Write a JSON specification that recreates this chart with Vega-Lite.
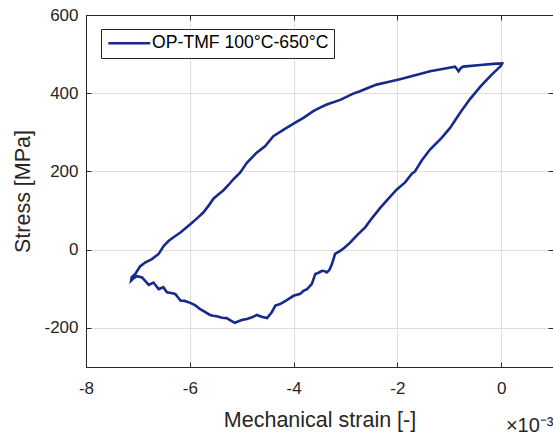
{
  "$schema": "https://vega.github.io/schema/vega-lite/v6.json",
  "width": 467,
  "height": 352,
  "autosize": "none",
  "padding": {"left": 86, "top": 15, "right": 0, "bottom": 70},
  "background": "white",
  "title": {"text": "×10⁻³", "orient": "bottom", "anchor": "end", "fontSize": 20, "fontWeight": "normal", "font": "Liberation Sans", "color": "#262626", "offset": -15},
  "config": {
    "view": {"stroke": "#262626", "strokeWidth": 1},
    "axis": {"domainColor": "#262626", "tickColor": "#262626", "labelColor": "#262626", "titleColor": "#262626", "labelFont": "Liberation Sans", "titleFont": "Liberation Sans", "labelFontSize": 17, "titleFontSize": 21.5, "titleFontWeight": "normal", "gridColor": "#dedede", "gridWidth": 1, "tickSize": -5, "domainWidth": 1, "labelFlush": false, "labelOverlap": false,
             "labelExpr": "datum.value < 0 ? '-' + abs(datum.value) : '' + datum.value"}
  },
  "data": {"values": [
    {"i":0,"x":0.01,"y":472},{"i":1,"x":-0.2,"y":445},{"i":2,"x":-0.4,"y":417},{"i":3,"x":-0.6,"y":385},{"i":4,"x":-0.79,"y":350},{"i":5,"x":-0.98,"y":312},{"i":6,"x":-1.15,"y":285},{"i":7,"x":-1.37,"y":256},{"i":8,"x":-1.53,"y":228},{"i":9,"x":-1.66,"y":200},{"i":10,"x":-1.72,"y":194},{"i":11,"x":-1.85,"y":172},{"i":12,"x":-2.01,"y":154},{"i":13,"x":-2.18,"y":129},{"i":14,"x":-2.33,"y":107},{"i":15,"x":-2.48,"y":82},{"i":16,"x":-2.62,"y":57},{"i":17,"x":-2.77,"y":38},{"i":18,"x":-2.91,"y":18},{"i":19,"x":-3.02,"y":5},{"i":20,"x":-3.1,"y":-3},{"i":21,"x":-3.2,"y":-11},{"i":22,"x":-3.26,"y":-37},{"i":23,"x":-3.31,"y":-52},{"i":24,"x":-3.36,"y":-58},{"i":25,"x":-3.4,"y":-55},{"i":26,"x":-3.45,"y":-54},{"i":27,"x":-3.52,"y":-59},{"i":28,"x":-3.58,"y":-62},{"i":29,"x":-3.65,"y":-88},{"i":30,"x":-3.74,"y":-101},{"i":31,"x":-3.81,"y":-105},{"i":32,"x":-3.87,"y":-113},{"i":33,"x":-4.0,"y":-118},{"i":34,"x":-4.13,"y":-129},{"i":35,"x":-4.26,"y":-139},{"i":36,"x":-4.35,"y":-143},{"i":37,"x":-4.42,"y":-160},{"i":38,"x":-4.51,"y":-175},{"i":39,"x":-4.6,"y":-172},{"i":40,"x":-4.71,"y":-167},{"i":41,"x":-4.8,"y":-173},{"i":42,"x":-4.9,"y":-177},{"i":43,"x":-5.0,"y":-180},{"i":44,"x":-5.13,"y":-187},{"i":45,"x":-5.2,"y":-182},{"i":46,"x":-5.29,"y":-175},{"i":47,"x":-5.38,"y":-174},{"i":48,"x":-5.48,"y":-170},{"i":49,"x":-5.55,"y":-169},{"i":50,"x":-5.61,"y":-167},{"i":51,"x":-5.7,"y":-160},{"i":52,"x":-5.8,"y":-152},{"i":53,"x":-5.9,"y":-142},{"i":54,"x":-5.99,"y":-136},{"i":55,"x":-6.1,"y":-131},{"i":56,"x":-6.18,"y":-130},{"i":57,"x":-6.28,"y":-113},{"i":58,"x":-6.36,"y":-111},{"i":59,"x":-6.44,"y":-109},{"i":60,"x":-6.51,"y":-96},{"i":61,"x":-6.6,"y":-101},{"i":62,"x":-6.7,"y":-84},{"i":63,"x":-6.79,"y":-90},{"i":64,"x":-6.86,"y":-80},{"i":65,"x":-6.92,"y":-71},{"i":66,"x":-7.02,"y":-68},{"i":67,"x":-7.1,"y":-75},{"i":68,"x":-7.13,"y":-79},{"i":69,"x":-7.12,"y":-70},{"i":70,"x":-7.05,"y":-62},{"i":71,"x":-6.96,"y":-43},{"i":72,"x":-6.86,"y":-33},{"i":73,"x":-6.73,"y":-24},{"i":74,"x":-6.6,"y":-11},{"i":75,"x":-6.5,"y":10},{"i":76,"x":-6.41,"y":22},{"i":77,"x":-6.3,"y":33},{"i":78,"x":-6.18,"y":44},{"i":79,"x":-5.99,"y":65},{"i":80,"x":-5.86,"y":80},{"i":81,"x":-5.74,"y":95},{"i":82,"x":-5.64,"y":112},{"i":83,"x":-5.54,"y":131},{"i":84,"x":-5.45,"y":141},{"i":85,"x":-5.35,"y":152},{"i":86,"x":-5.25,"y":166},{"i":87,"x":-5.16,"y":180},{"i":88,"x":-5.03,"y":197},{"i":89,"x":-4.9,"y":222},{"i":90,"x":-4.71,"y":248},{"i":91,"x":-4.55,"y":264},{"i":92,"x":-4.39,"y":290},{"i":93,"x":-4.19,"y":307},{"i":94,"x":-4.0,"y":322},{"i":95,"x":-3.81,"y":337},{"i":96,"x":-3.62,"y":354},{"i":97,"x":-3.49,"y":363},{"i":98,"x":-3.36,"y":371},{"i":99,"x":-3.1,"y":383},{"i":100,"x":-2.85,"y":399},{"i":101,"x":-2.72,"y":405},{"i":102,"x":-2.52,"y":416},{"i":103,"x":-2.4,"y":422},{"i":104,"x":-2.2,"y":428},{"i":105,"x":-1.95,"y":436},{"i":106,"x":-1.62,"y":447},{"i":107,"x":-1.37,"y":456},{"i":108,"x":-1.05,"y":464},{"i":109,"x":-0.89,"y":468},{"i":110,"x":-0.85,"y":462},{"i":111,"x":-0.82,"y":456},{"i":112,"x":-0.77,"y":465},{"i":113,"x":-0.73,"y":468},{"i":114,"x":-0.4,"y":472},{"i":115,"x":-0.15,"y":475},{"i":116,"x":0.02,"y":476},{"i":117,"x":0.01,"y":472}
  ]},
  "layer": [
    {
      "mark": {"type": "line", "strokeWidth": 2.6, "clip": true},
      "encoding": {
        "x": {"field": "x", "type": "quantitative", "scale": {"domain": [-8, 1], "nice": false, "zero": false},
              "axis": {"orient": "bottom", "values": [-8, -6, -4, -2, 0], "title": "Mechanical strain [-]", "labelPadding": 18, "titlePadding": 13, "grid": true}},
        "y": {"field": "y", "type": "quantitative", "scale": {"domain": [-300, 600], "nice": false, "zero": false},
              "axis": {"orient": "left", "values": [-200, 0, 200, 400, 600], "title": "Stress [MPa]", "labelPadding": 13, "titlePadding": 9, "grid": true}},
        "order": {"field": "i", "type": "quantitative"},
        "color": {"datum": "OP-TMF 100°C-650°C", "type": "nominal", "scale": {"range": ["#172a8a"]},
                  "legend": {"title": null, "orient": "none", "legendX": 15, "legendY": 14, "symbolType": "M-4,0H4", "symbolSize": 110, "symbolStrokeWidth": 2.6, "symbolOffset": 14, "labelOffset": 14, "labelFont": "Liberation Sans", "labelFontSize": 17.6, "labelLimit": 400, "labelColor": "#000000", "padding": 5.5, "strokeColor": "#262626", "fillColor": "white", "cornerRadius": 0}}
      }
    },
    {
      "mark": {"type": "line", "strokeOpacity": 0},
      "encoding": {
        "x": {"field": "x", "type": "quantitative", "axis": {"orient": "top", "values": [-8, -6, -4, -2, 0], "labels": false, "title": null, "grid": false}},
        "y": {"field": "y", "type": "quantitative", "axis": {"orient": "right", "values": [-200, 0, 200, 400, 600], "labels": false, "title": null, "grid": false}},
        "order": {"field": "i", "type": "quantitative"}
      }
    }
  ]
}
